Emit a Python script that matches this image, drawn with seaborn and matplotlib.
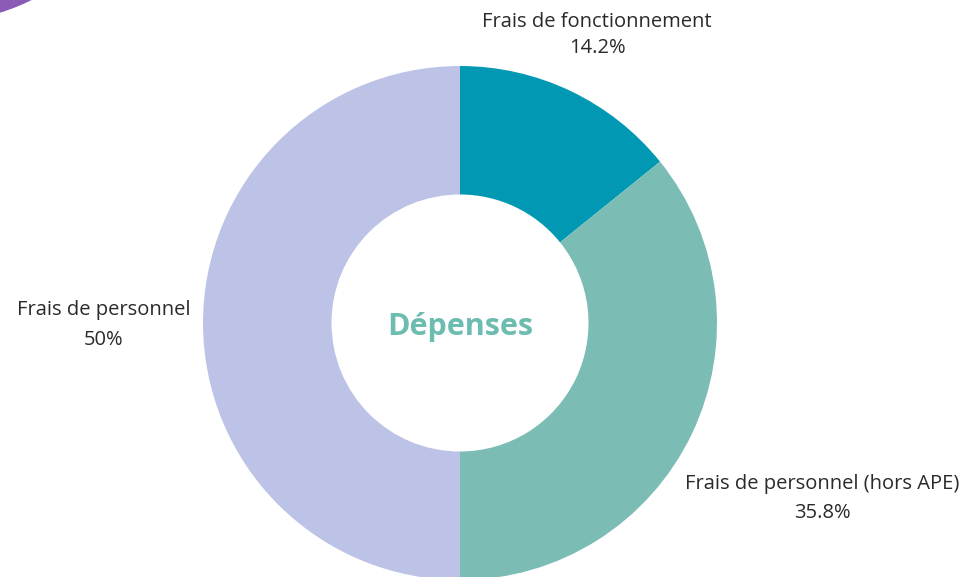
import matplotlib
matplotlib.use("Agg")
import matplotlib.pyplot as plt
import seaborn as sns
from matplotlib.patches import Circle

sns.set_theme(style="white")
plt.rcParams['font.family'] = ['Open Sans', 'DejaVu Sans']

categories = ["Frais de fonctionnement", "Frais de personnel (hors APE)", "Frais de personnel"]
values = [14.2, 35.8, 50.0]
value_labels = ["14.2%", "35.8%", "50%"]
colors = ["#0098b2", "#7bbcb5", "#bcc3e6"]
center_title = "Dépenses"

W, H = 972, 577
fig = plt.figure(figsize=(W / 100, H / 100), dpi=100)
ax = fig.add_axes([0, 0, 1, 1])

cx, cy, R = 460, H - 323, 257
ax.pie(values, colors=colors, startangle=90, counterclock=False,
       center=(cx, cy), radius=R, frame=True,
       wedgeprops=dict(width=R * 0.5, linewidth=0))
ax.set_xlim(0, W)
ax.set_ylim(0, H)
ax.set_aspect("equal")
ax.axis("off")

# decorative purple corner
ax.add_patch(Circle((-60, 760), 204, color="#8a5bb6", zorder=0, clip_on=True))

ax.text(cx, H - 327, center_title, ha="center", va="center",
        fontsize=22, fontweight="bold", color="#6cbcb0")

lab_pos = [(597, 22, 48), (822, 484, 513), (104, 310, 340)]
for cat, vl, (x, y1, y2) in zip(categories, value_labels, lab_pos):
    ax.text(x, H - y1, cat, ha="center", va="center", fontsize=14.5, color="#2a2a2a")
    ax.text(x, H - y2, vl, ha="center", va="center", fontsize=14.5, color="#2a2a2a")

fig.savefig("out.png", dpi=100)
